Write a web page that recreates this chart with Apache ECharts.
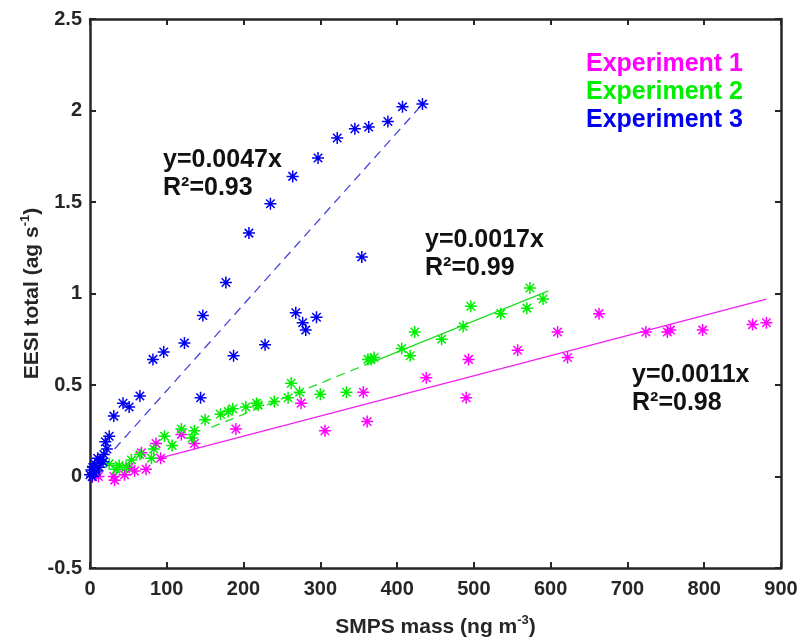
<!DOCTYPE html>
<html>
<head>
<meta charset="utf-8">
<script src="https://cdn.jsdelivr.net/npm/echarts@6/dist/echarts.min.js"></script>
<style>
  html, body { margin: 0; padding: 0; background: #fff; }
  #main { width: 800px; height: 638px; }
</style>
</head>
<body>
<div id="main"></div>
<script>
// values
const exp1X = [3, 11, 31, 32, 45, 51, 58, 67, 73, 86, 92, 119, 136, 190, 275, 306, 356, 361, 438, 490, 493, 557, 609, 622, 663, 724, 752, 756, 798, 863, 881];
const exp1Y = [0.0, 0.0, 0.0, -0.02, 0.01, 0.05, 0.03, 0.13, 0.04, 0.18, 0.10, 0.23, 0.18, 0.26, 0.40, 0.25, 0.46, 0.30, 0.54, 0.43, 0.64, 0.69, 0.79, 0.65, 0.89, 0.79, 0.79, 0.80, 0.80, 0.83, 0.84];

const exp2X = [25, 34, 38, 47, 54, 65, 80, 83, 97, 107, 119, 133, 136, 150, 170, 180, 186, 203, 217, 219, 240, 258, 262, 273, 300, 334, 362, 366, 370, 406, 417, 423, 458, 486, 496, 535, 569, 573, 590];
const exp2Y = [0.07, 0.04, 0.06, 0.05, 0.09, 0.12, 0.10, 0.15, 0.22, 0.17, 0.26, 0.21, 0.25, 0.31, 0.34, 0.355, 0.37, 0.38, 0.40, 0.39, 0.41, 0.43, 0.51, 0.46, 0.45, 0.46, 0.64, 0.64, 0.65, 0.70, 0.66, 0.79, 0.75, 0.82, 0.93, 0.89, 0.92, 1.03, 0.97];

const exp3X = [0, 2, 3, 4, 6, 6, 8, 10, 12, 14, 17, 18, 20, 22, 25, 31, 43, 51, 65, 82, 96, 123, 144, 147, 177, 187, 207, 228, 235, 264, 268, 277, 281, 295, 297, 322, 345, 354, 363, 388, 407, 433];
const exp3Y = [0.01, 0.035, 0.0, 0.05, 0.02, 0.07, 0.03, 0.10, 0.05, 0.09, 0.08, 0.12, 0.19, 0.15, 0.22, 0.33, 0.40, 0.38, 0.44, 0.64, 0.68, 0.73, 0.43, 0.88, 1.06, 0.66, 1.33, 0.72, 1.49, 1.64, 0.895, 0.84, 0.80, 0.87, 1.74, 1.85, 1.90, 1.20, 1.91, 1.94, 2.02, 2.035];

// fitted slopes and the x span each fit line covers
const fitSlopes = [0.0011, 0.0017, 0.0047];
const fitR2 = ['0.98', '0.99', '0.93'];
const fit1Solid = [92, 881];
const fit2Dashed = [158, 362];
const fit2Solid = [362, 597];
const fit3Dashed = [32, 433];

const names = ['Experiment 1', 'Experiment 2', 'Experiment 3'];
const colors = ['#ff00ff', '#00ee00', '#0000ee'];
const lineColors = ['#ee22ee', '#22dd22', '#4646dc'];

const FONT = '"Liberation Sans", Arial, sans-serif';
const INK = '#262626';
const STAR = 'path://M0,-10L0,10M-10,0L10,0M-7.07,-7.07L7.07,7.07M-7.07,7.07L7.07,-7.07';

function zip(xs, ys) {
  return xs.map((x, i) => [x, ys[i]]);
}
function fitLine(slope, span) {
  return span.map(x => [x, slope * x]);
}

function scatter(i, xs, ys) {
  return {
    name: names[i],
    type: 'scatter',
    symbol: STAR,
    symbolSize: 12,
    itemStyle: { color: 'rgba(0,0,0,0)', borderColor: colors[i], borderWidth: 1.5, opacity: 1 },
    data: zip(xs, ys),
    z: 3
  };
}
function line(i, span, dashed) {
  return {
    name: 'fit' + (i + 1) + (dashed ? 'd' : 's'),
    type: 'line',
    symbol: 'none',
    silent: true,
    lineStyle: { color: lineColors[i], width: 1.3, type: dashed ? [9, 6] : 'solid' },
    data: fitLine(fitSlopes[i], span),
    z: 2
  };
}

const chart = echarts.init(document.getElementById('main'), null, { renderer: 'canvas' });

const axisBase = {
  axisLine: { show: true, onZero: false, lineStyle: { color: INK, width: 2.5 } },
  axisTick: { show: true, inside: true, length: 6, lineStyle: { color: INK, width: 2 } },
  splitLine: { show: false },
  axisLabel: { color: INK, fontSize: 20, fontWeight: 'bold', fontFamily: FONT }
};

const annot = (left, top, i) => ({
  type: 'text',
  left: left,
  top: top,
  style: {
    text: 'y=' + fitSlopes[i] + 'x\nR²=' + fitR2[i],
    font: 'bold 25px ' + FONT,
    fill: '#111',
    lineHeight: 28
  }
});

chart.setOption({
  animation: false,
  backgroundColor: '#fff',
  grid: { left: 90, right: 19, top: 19, bottom: 70, containLabel: false, outerBoundsMode: 'none' },
  legend: {
    data: names.map((n, i) => ({ name: n, textStyle: { color: colors[i] } })),
    orient: 'vertical',
    right: 52,
    top: 46,
    icon: 'none',
    itemWidth: 0,
    itemHeight: 0,
    itemGap: 1,
    selectedMode: false,
    textStyle: { fontSize: 25, fontWeight: 'bold', fontFamily: FONT, lineHeight: 27 }
  },
  xAxis: [
    Object.assign({}, axisBase, {
      type: 'value', min: 0, max: 900, interval: 100, position: 'bottom',
      axisLabel: Object.assign({}, axisBase.axisLabel, { margin: 11 }),
      name: 'SMPS mass (ng m{sup|-3})',
      nameLocation: 'middle',
      nameGap: 46,
      nameTextStyle: {
        color: INK, fontSize: 21, fontWeight: 'bold', fontFamily: FONT, lineHeight: 26,
        rich: { sup: { fontSize: 13, fontWeight: 'bold', fontFamily: FONT, color: INK, verticalAlign: 'top', lineHeight: 14 } }
      }
    }),
    Object.assign({}, axisBase, {
      type: 'value', min: 0, max: 900, interval: 100, position: 'top',
      axisLabel: { show: false }
    })
  ],
  yAxis: [
    Object.assign({}, axisBase, {
      type: 'value', min: -0.5, max: 2.5, interval: 0.5, position: 'left',
      axisLabel: Object.assign({}, axisBase.axisLabel, { margin: 8 }),
      name: 'EESI total (ag s{sup|-1})',
      nameLocation: 'middle',
      nameGap: 45,
      nameMoveOverlap: false,
      nameTextStyle: {
        color: INK, fontSize: 21, fontWeight: 'bold', fontFamily: FONT, lineHeight: 26,
        rich: { sup: { fontSize: 13, fontWeight: 'bold', fontFamily: FONT, color: INK, verticalAlign: 'top', lineHeight: 14 } }
      }
    }),
    Object.assign({}, axisBase, {
      type: 'value', min: -0.5, max: 2.5, interval: 0.5, position: 'right',
      axisLabel: { show: false }
    })
  ],
  series: [
    line(0, fit1Solid, false),
    line(1, fit2Dashed, true),
    line(1, fit2Solid, false),
    line(2, fit3Dashed, true),
    scatter(0, exp1X, exp1Y),
    scatter(1, exp2X, exp2Y),
    scatter(2, exp3X, exp3Y)
  ],
  graphic: [
    annot(163, 146, 2),
    annot(425, 226, 1),
    annot(632, 361, 0)
  ]
});
</script>
</body>
</html>
